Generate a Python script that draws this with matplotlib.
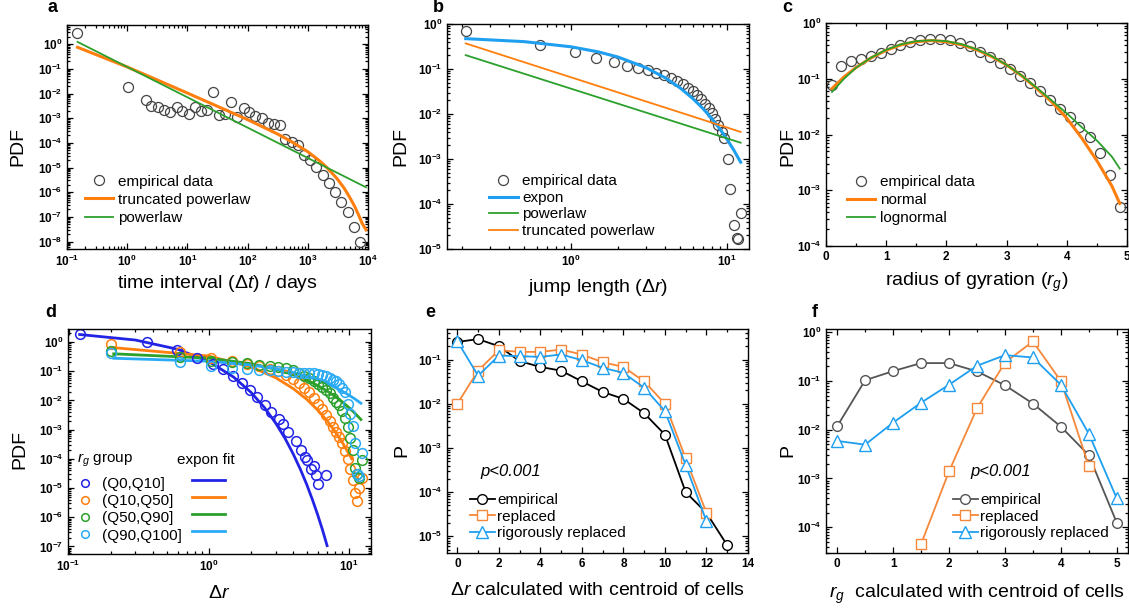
import numpy as np
import matplotlib
matplotlib.use("Agg")
import matplotlib.pyplot as plt
from matplotlib.lines import Line2D
from matplotlib.ticker import LogLocator, NullFormatter, MultipleLocator

plt.rcParams['font.family'] = ['Liberation Sans', 'DejaVu Sans']
plt.rcParams['mathtext.fontset'] = 'custom'
plt.rcParams['mathtext.rm'] = 'Liberation Sans'
plt.rcParams['mathtext.it'] = 'Liberation Sans:italic'
plt.rcParams['mathtext.bf'] = 'Liberation Sans:bold'
plt.rcParams['mathtext.default'] = 'regular'

# ---------------- data ----------------
# panel a
a_emp_x = [0.147, 1.04, 2.02, 2.51, 3.29, 4.17, 5.13, 6.61, 8.13, 10.5, 13.5, 16.6, 20.9, 26.9,
           33.9, 42.7, 53.7, 66.1, 87.1, 107, 135, 174, 219, 275, 347, 427, 550, 692, 851, 1096,
           1380, 1778, 2291, 2884, 3631, 4677, 5888, 7244]
a_emp_y = [2.95, 0.0178, 5.4e-3, 3.1e-3, 2.75e-3, 2.2e-3, 1.8e-3, 2.75e-3, 1.95e-3, 1.55e-3,
           2.9e-3, 2.0e-3, 2.15e-3, 0.0115, 1.4e-3, 1.5e-3, 4.5e-3, 1.1e-3, 2.5e-3, 1.8e-3,
           1.23e-3, 9.8e-4, 6.2e-4, 5.75e-4, 5.25e-4, 1.5e-4, 1.12e-4, 8.1e-5, 3.2e-5, 2.0e-5,
           1.02e-5, 5.0e-6, 2.45e-6, 1.05e-6, 4.2e-7, 1.6e-7, 4.0e-8, 1.0e-8]
a_tpl_x = [0.15, 1, 10, 100, 300, 500, 1000, 1500, 2000, 3000, 4000, 5000, 6000, 7000, 8000, 9300]
a_tpl_y = [0.75, 0.12, 0.0105, 8.8e-4, 2.43e-4, 1.25e-4, 4.4e-5, 2.06e-5, 1.1e-5, 3.8e-6,
           1.5e-6, 6.1e-7, 2.7e-7, 1.19e-7, 5.5e-8, 3.0e-8]
a_pl_x = [0.15, 9300]
a_pl_y = [1.24, 1.58e-6]

# panel b
b_emp_x = [0.211, 0.63, 1.055, 1.45, 1.89, 2.29, 2.69, 3.12, 3.52, 3.93, 4.35, 4.78, 5.22, 5.62,
           6.03, 6.42, 6.81, 7.22, 7.63, 8.01, 8.41, 8.79, 9.2, 9.52, 10.1, 10.5, 11.0, 11.6,
           11.8, 12.2]
b_emp_y = [0.687, 0.346, 0.233, 0.172, 0.14, 0.118, 0.105, 0.093, 0.082, 0.073, 0.0617, 0.0537,
           0.0452, 0.038, 0.0316, 0.0263, 0.0214, 0.017, 0.0135, 0.0105, 0.0079, 0.0056, 0.004,
           0.003, 9.8e-4, 2.2e-4, 3.5e-5, 1.8e-5, 1.66e-5, 6.3e-5]
b_exp_x = [0.211, 0.5, 1, 1.5, 2, 3, 4, 5, 6, 7, 8, 9, 10, 11, 12.2]
b_exp_y = [0.472, 0.405, 0.311, 0.239, 0.184, 0.108, 0.064, 0.0378, 0.0223, 0.0132, 7.8e-3,
           4.6e-3, 2.7e-3, 1.6e-3, 8.5e-4]
b_pl_x = [0.211, 12.2]
b_pl_y = [0.203, 2.3e-3]
b_tpl_x = [0.211, 12.2]
b_tpl_y = [0.37, 4.0e-3]

# panel c
c_emp_x = [0.094, 0.244, 0.41, 0.577, 0.743, 0.91, 1.076, 1.23, 1.40, 1.563, 1.73, 1.896, 2.06,
           2.23, 2.39, 2.56, 2.73, 2.89, 3.06, 3.23, 3.39, 3.56, 3.715, 3.88, 4.05, 4.21, 4.39,
           4.545, 4.71, 4.88]
c_emp_y = [0.0766, 0.17, 0.206, 0.224, 0.257, 0.295, 0.347, 0.41, 0.457, 0.49, 0.51, 0.51, 0.49,
           0.44, 0.38, 0.30, 0.246, 0.192, 0.152, 0.111, 0.084, 0.0605, 0.0412, 0.0292, 0.0202,
           0.0134, 8.9e-3, 4.6e-3, 1.86e-3, 5.1e-4]
c_fit_x = [0.1, 0.3, 0.5, 0.75, 1.0, 1.25, 1.5, 1.75, 2.0, 2.25, 2.5, 2.75, 3.0, 3.25, 3.5, 3.75,
           4.0, 4.25, 4.5, 4.75, 4.88]
c_norm_y = [0.0667, 0.108, 0.159, 0.237, 0.324, 0.407, 0.463, 0.484, 0.463, 0.407, 0.333, 0.251,
            0.177, 0.1135, 0.0671, 0.0385, 0.0196, 8.6e-3, 3.4e-3, 1.19e-3, 5.8e-4]
c_lognorm_y = [0.058, 0.1, 0.158, 0.24, 0.331, 0.417, 0.473, 0.49, 0.473, 0.417, 0.339, 0.257,
               0.178, 0.115, 0.069, 0.0407, 0.024, 0.0135, 7.8e-3, 4.0e-3, 2.45e-3]

# panel d
d_labels = ['(Q0,Q10]', '(Q10,Q50]', '(Q50,Q90]', '(Q90,Q100]']
d1_x = [0.12, 0.36, 0.59, 0.83, 1.07, 1.27, 1.49, 1.73, 1.96, 2.22, 2.51, 2.80, 3.15, 3.38, 3.67,
        4.17, 4.57, 4.85, 5.05, 5.33, 5.6, 5.86, 6.03, 6.9]
d1_y = [1.88, 1.03, 0.55, 0.28, 0.17, 0.119, 0.066, 0.040, 0.0234, 0.0127, 7.1e-3, 4.0e-3, 2.3e-3,
        1.6e-3, 8.0e-4, 4.0e-4, 1.95e-4, 1.2e-4, 8.9e-5, 4.5e-5, 5.5e-5, 2.9e-5, 1.4e-5, 2.9e-5]
d_grid_x = [0.2, 0.62, 1.04, 1.46, 1.88, 2.3, 2.72, 3.13, 3.55, 3.97, 4.39, 4.8, 5.22, 5.64, 6.06,
            6.48, 6.89, 7.31, 7.73, 8.15, 8.57, 8.98, 9.4, 9.82, 10.24, 10.66, 11.07, 11.49,
            11.91, 12.33]
d2_y = [0.85, 0.455, 0.28, 0.23, 0.18, 0.15, 0.12, 0.1, 0.076, 0.055, 0.038, 0.026, 0.019, 0.012,
        7.5e-3, 5.0e-3, 3.1e-3, 2.0e-3, 1.25e-3, 8e-4, 5.5e-4, 3.5e-4, 1.9e-4, 1.0e-4, 4.5e-5,
        1.9e-5, 6.5e-6, 3.7e-6, 1.0e-5, 2.2e-5]
d3_y = [0.48, 0.31, 0.23, 0.21, 0.185, 0.167, 0.146, 0.135, 0.13, 0.11, 0.09, 0.07, 0.057, 0.046,
        0.036, 0.029, 0.023, 0.0175, 0.012, 0.0085, 0.0071, 0.0045, 0.0025, 0.0012, 5.2e-4,
        2.0e-4, 4.8e-5, 3.0e-5, 2.2e-5, 9.0e-5]
d4_y = [0.42, 0.206, 0.146, 0.13, 0.12, 0.112, 0.107, 0.1, 0.095, 0.092, 0.088, 0.087, 0.087,
        0.085, 0.08, 0.075, 0.068, 0.06, 0.05, 0.047, 0.036, 0.026, 0.019, 7.5e-3, 3.5e-3,
        1.3e-3, 3.5e-4, 3.0e-5, 2.6e-5, 1.6e-4]
d1_fit_x = [0.12, 0.3, 0.6, 1.0, 1.5, 2.0, 2.5, 3.0, 3.5, 4.0, 4.5, 5.0, 5.5, 6.0, 6.5, 7.0]
d1_fit_y = [1.81, 1.17, 0.566, 0.215, 0.064, 0.0191, 5.7e-3, 1.70e-3, 5.1e-4, 1.51e-4, 4.5e-5,
            1.35e-5, 4.0e-6, 1.2e-6, 3.6e-7, 1.06e-7]
d2_fit_x = [0.2, 1, 2, 3, 4, 5, 6, 7, 8, 9, 10.5]
d2_fit_y = [0.655, 0.331, 0.141, 0.0603, 0.0257, 0.011, 4.68e-3, 2.0e-3, 8.5e-4, 3.6e-4, 1.0e-4]
d34_fit_x = [0.21, 1, 2, 3, 4, 5, 6, 7, 8, 9, 10, 11, 12.2]
d3_fit_y = [0.395, 0.281, 0.182, 0.118, 0.0769, 0.0499, 0.0324, 0.021, 0.0136, 8.87e-3, 5.75e-3,
            3.73e-3, 2.22e-3]
d4_fit_y = [0.278, 0.220, 0.164, 0.122, 0.0906, 0.0673, 0.050, 0.0372, 0.0277, 0.0206, 0.0153,
            0.0114, 0.0080]

# panel e
e_x = [0, 1, 2, 3, 4, 5, 6, 7, 8, 9, 10, 11, 12, 13]
e_emp = [0.25, 0.29, 0.2, 0.092, 0.068, 0.056, 0.032, 0.0185, 0.0129, 6.1e-3, 2.0e-3, 1.0e-4,
         3.4e-5, 6.3e-6]
e_rep = [0.01, 0.056, 0.163, 0.149, 0.149, 0.168, 0.13, 0.087, 0.068, 0.032, 0.01, 5.8e-4, 3.4e-5]
e_rig = [0.26, 0.043, 0.123, 0.119, 0.115, 0.13, 0.097, 0.065, 0.05, 0.023, 6.8e-3, 4.1e-4, 2.2e-5]

# panel f
f_x = [0, 0.5, 1, 1.5, 2, 2.5, 3, 3.5, 4, 4.5, 5]
f_emp = [0.0118, 0.104, 0.16, 0.234, 0.234, 0.158, 0.082, 0.0345, 0.0116, 3.0e-3, 1.23e-4]
f_rep_x = [1.5, 2, 2.5, 3, 3.5, 4, 4.5]
f_rep = [4.5e-5, 1.4e-3, 0.0276, 0.24, 0.65, 0.1, 1.8e-3]
f_rig = [5.9e-3, 4.95e-3, 0.014, 0.036, 0.084, 0.206, 0.34, 0.305, 0.084, 8.3e-3, 3.9e-4]

# ---------------- styling ----------------
ORANGE = '#ff7f0e'
GREEN = '#2ca02c'
SKY = '#1e9ff0'
DBLUE = '#2323e6'
CYAN = '#2aaaf5'
EORANGE = '#f5883a'
GRAY = '#555555'

LABEL_FS = 14
TICK_FS = 8.5
LEG_FS = 11

fig = plt.figure(figsize=(11.29, 6.10), dpi=100)


def style_axes(ax):
    for s in ax.spines.values():
        s.set_linewidth(1.0)
    ax.tick_params(which='both', direction='in', top=True, right=True, labelsize=TICK_FS,
                   width=0.9)
    ax.tick_params(which='major', length=4)
    ax.tick_params(which='minor', length=2)
    for lab in ax.get_xticklabels() + ax.get_yticklabels():
        lab.set_fontweight('bold')


def log_axis(axis):
    axis.set_major_locator(LogLocator(base=10, numticks=30))
    axis.set_minor_locator(LogLocator(base=10, subs=np.arange(2, 10), numticks=30))
    axis.set_minor_formatter(NullFormatter())


def make_legend(ax, spacing, **kw):
    leg = ax.legend(frameon=False, fontsize=LEG_FS, borderpad=0, borderaxespad=0,
                    labelspacing=spacing, **kw)
    return leg


def labels(ax, xl, yl, xpad, ycoords):
    ax.set_xlabel(xl, fontsize=LABEL_FS, labelpad=xpad)
    ax.set_ylabel(yl, fontsize=LABEL_FS)
    ax.yaxis.set_label_coords(*ycoords)


# ---- panel a ----
axa = fig.add_axes([0.0593, 0.5918, 0.2666, 0.3672])
axa.set_xscale('log'); axa.set_yscale('log')
axa.plot(a_emp_x, a_emp_y, 'o', mfc='none', mec='#444444', ms=7.2, mew=0.9, label='empirical data')
axa.plot(a_tpl_x, a_tpl_y, '-', color=ORANGE, lw=2.2, label='truncated powerlaw')
axa.plot(a_pl_x, a_pl_y, '-', color=GREEN, lw=1.3, label='powerlaw')
axa.set_xlim(0.1, 1e4); axa.set_ylim(5e-9, 6)
log_axis(axa.xaxis); log_axis(axa.yaxis)
labels(axa, r'time interval ($\Delta\mathit{t}$) / days', 'PDF', 3, (-0.136, 0.457))
make_legend(axa, 0.27, loc='upper left', bbox_to_anchor=(0.06, 0.332), handlelength=1.85,
            handletextpad=0.3)
style_axes(axa)

# ---- panel b ----
axb = fig.add_axes([0.3959, 0.5918, 0.2675, 0.3689])
axb.set_xscale('log'); axb.set_yscale('log')
axb.plot(b_emp_x, b_emp_y, 'o', mfc='none', mec='#444444', ms=7.2, mew=0.9, label='empirical data')
axb.plot(b_exp_x, b_exp_y, '-', color=SKY, lw=2.2, label='expon')
axb.plot(b_pl_x, b_pl_y, '-', color=GREEN, lw=1.3, label='powerlaw')
axb.plot(b_tpl_x, b_tpl_y, '-', color=ORANGE, lw=1.3, label='truncated powerlaw')
axb.set_xlim(0.16, 13.8); axb.set_ylim(1e-5, 1)
log_axis(axb.xaxis); log_axis(axb.yaxis)
labels(axb, r'jump length ($\mathit{\Delta r}$)', 'PDF', 6, (-0.123, 0.455))
make_legend(axb, 0.17, loc='upper left', bbox_to_anchor=(0.14, 0.332), handlelength=1.85,
            handletextpad=0.3)
style_axes(axb)

# ---- panel c ----
axc = fig.add_axes([0.7316, 0.5967, 0.2666, 0.3656])
axc.set_yscale('log')
axc.plot(c_emp_x, c_emp_y, 'o', mfc='none', mec='#444444', ms=7.2, mew=0.9, label='empirical data')
axc.plot(c_fit_x, c_norm_y, '-', color=ORANGE, lw=2.2, label='normal')
axc.plot(c_fit_x, c_lognorm_y, '-', color=GREEN, lw=1.3, label='lognormal')
axc.set_xlim(0, 5); axc.set_ylim(1e-4, 1)
axc.xaxis.set_major_locator(MultipleLocator(1))
axc.xaxis.set_minor_locator(MultipleLocator(0.5))
log_axis(axc.yaxis)
labels(axc, r'radius of gyration ($\mathit{r}_\mathit{g}$)', 'PDF', 6, (-0.100, 0.445))
make_legend(axc, 0.27, loc='upper left', bbox_to_anchor=(0.07, 0.318), handlelength=1.85,
            handletextpad=0.3)
style_axes(axc)

# ---- panel d ----
axd = fig.add_axes([0.0602, 0.0918, 0.2684, 0.3689])
axd.set_xscale('log'); axd.set_yscale('log')
d_cols = [DBLUE, ORANGE, GREEN, CYAN]
d_data = [(d1_x, d1_y), (d_grid_x, d2_y), (d_grid_x, d3_y), (d_grid_x, d4_y)]
d_fits = [(d1_fit_x, d1_fit_y), (d2_fit_x, d2_fit_y), (d34_fit_x, d3_fit_y), (d34_fit_x, d4_fit_y)]
for (fx, fy), c in zip(d_fits, d_cols):
    axd.plot(fx, fy, '-', color=c, lw=2.0)
for (x, y), c in zip(d_data, d_cols):
    axd.plot(x, y, 'o', mfc='none', mec=c, ms=7, mew=1.1)
axd.set_xlim(0.099, 14.4); axd.set_ylim(5.5e-8, 2.8)
log_axis(axd.xaxis); log_axis(axd.yaxis)
labels(axd, r'$\mathit{\Delta r}$', 'PDF', 8, (-0.132, 0.464))
mk_handles = [Line2D([], [], marker='o', ls='none', mfc='none', mec=c, ms=5.5, mew=1.1)
              for c in d_cols]
ln_handles = [Line2D([], [], color=c, lw=2.0) for c in d_cols]
leg1 = axd.legend(mk_handles, d_labels, title=r'$\mathit{r}_\mathit{g}$ group',
                  title_fontsize=LEG_FS, loc='upper left', bbox_to_anchor=(0.03, 0.455),
                  frameon=False, fontsize=LEG_FS, borderpad=0, borderaxespad=0,
                  labelspacing=0.2, handlelength=1.0, handletextpad=0.65)
leg1._legend_box.align = 'left'
leg1._legend_box.sep = 6
axd.add_artist(leg1)
leg2 = axd.legend(ln_handles, ['', '', '', ''], title=' ', title_fontsize=LEG_FS,
                  loc='upper left', bbox_to_anchor=(0.408, 0.455), frameon=False,
                  fontsize=LEG_FS, borderpad=0, borderaxespad=0, labelspacing=0.2,
                  handlelength=2.2, handletextpad=0)
leg2._legend_box.align = 'left'
leg2._legend_box.sep = 6
axd.text(0.36, 0.418, 'expon fit', transform=axd.transAxes, fontsize=LEG_FS, va='center',
         ha='left')
style_axes(axd)

# ---- panel e ----
axe = fig.add_axes([0.3959, 0.0934, 0.2666, 0.3672])
axe.set_yscale('log')
axe.plot(e_x, e_emp, '-o', color='black', mfc='white', mec='black', ms=7, lw=1.3, mew=1.0,
         label='empirical')
axe.plot(e_x[:len(e_rep)], e_rep, '-s', color=EORANGE, mfc='white', mec=EORANGE, ms=7, lw=1.3,
         mew=1.0, label='replaced')
axe.plot(e_x[:len(e_rig)], e_rig, '-^', color=SKY, mfc='white', mec=SKY, ms=8, lw=1.3, mew=1.0,
         label='rigorously replaced')
axe.set_xlim(-0.5, 14); axe.set_ylim(4.2e-6, 0.49)
axe.xaxis.set_major_locator(MultipleLocator(2))
axe.xaxis.set_minor_locator(MultipleLocator(1))
log_axis(axe.yaxis)
labels(axe, r'$\mathit{\Delta r}$ calculated with centroid of cells', 'P', 9, (-0.123, 0.456))
axe.text(0.11, 0.363, 'p<0.001', transform=axe.transAxes, fontsize=12, fontstyle='italic',
         va='center', ha='left')
make_legend(axe, 0.17, loc='upper left', bbox_to_anchor=(0.076, 0.267), handlelength=1.65,
            handletextpad=0.15)
style_axes(axe)

# ---- panel f ----
axf = fig.add_axes([0.7316, 0.0934, 0.2675, 0.3672])
axf.set_yscale('log')
axf.plot(f_x, f_emp, '-o', color=GRAY, mfc='white', mec=GRAY, ms=7, lw=1.3, mew=1.0,
         label='empirical')
axf.plot(f_rep_x, f_rep, '-s', color=EORANGE, mfc='white', mec=EORANGE, ms=7, lw=1.3, mew=1.0,
         label='replaced')
axf.plot(f_x, f_rig, '-^', color=SKY, mfc='white', mec=SKY, ms=8, lw=1.3, mew=1.0,
         label='rigorously replaced')
axf.set_xlim(-0.2, 5.2); axf.set_ylim(2.95e-5, 1.17)
axf.xaxis.set_major_locator(MultipleLocator(1))
axf.xaxis.set_minor_locator(MultipleLocator(0.5))
log_axis(axf.yaxis)
labels(axf, r'$\mathit{r}_\mathit{g}$  calculated with centroid of cells', 'P', 9,
       (-0.099, 0.456))
axf.text(0.477, 0.363, 'p<0.001', transform=axf.transAxes, fontsize=12, fontstyle='italic',
         va='center', ha='left')
make_legend(axf, 0.17, loc='upper left', bbox_to_anchor=(0.42, 0.267), handlelength=1.65,
            handletextpad=0.15)
style_axes(axf)

# panel letters
for s, (x, y) in zip('abcdef', [(48, 8), (433, 8), (782, 8), (45, 313), (425, 313), (812, 313)]):
    fig.text(x / 1129, 1 - y / 610, s, fontsize=13, fontweight='bold', va='center', ha='left')

fig.savefig('out.png', dpi=100)
